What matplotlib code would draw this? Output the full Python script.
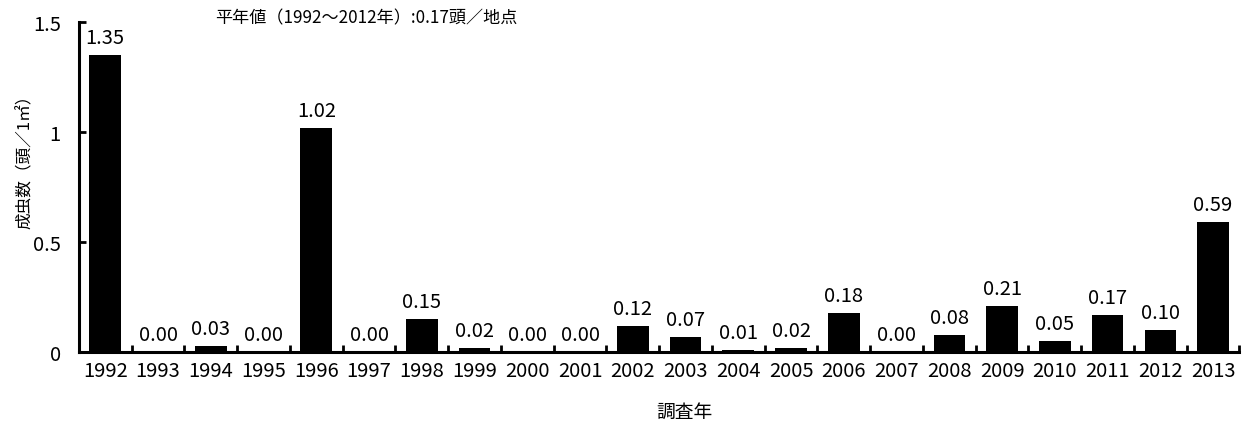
import numpy as np
import matplotlib.pyplot as plt
from matplotlib.ticker import FixedLocator

plt.rcParams['font.family'] = ['Noto Sans CJK JP', 'DejaVu Sans']

years = [str(y) for y in range(1992, 2014)]
counts = [1.35, 0.00, 0.03, 0.00, 1.02, 0.00, 0.15, 0.02, 0.00, 0.00, 0.12,
          0.07, 0.01, 0.02, 0.18, 0.00, 0.08, 0.21, 0.05, 0.17, 0.10, 0.59]
y_ticks = [0, 0.5, 1, 1.5]
y_labels = ['0', '0.5', '1', '1.5']

fig = plt.figure(figsize=(12.52, 4.27), dpi=100)
ax = fig.add_axes([0.063, 0.173, 0.927, 0.773])

x = np.arange(len(years))
ax.bar(x, counts, width=0.6, color='black')
for xi, v in zip(x, counts):
    ax.annotate(f'{v:.2f}', (xi, v), xytext=(0, 8.5), textcoords='offset points',
                ha='center', va='baseline', fontsize=14.5)

ax.set_xlim(-0.5, len(years) - 0.5)
ax.set_ylim(0, 1.5)
ax.set_xticks(x)
ax.set_xticklabels(years, fontsize=14.5)
# ticks between the bars, pointing up into the plot
ax.xaxis.set_minor_locator(FixedLocator(np.arange(-0.5, len(years), 1.0)))
ax.tick_params(axis='x', which='major', length=0, pad=5.5)
ax.tick_params(axis='x', which='minor', direction='in', length=5, width=2)
ax.set_yticks(y_ticks)
ax.set_yticklabels(y_labels, fontsize=14.5)
ax.tick_params(axis='y', direction='in', length=5, width=2, pad=13)

for side in ['top', 'right']:
    ax.spines[side].set_visible(False)
for side in ['left', 'bottom']:
    ax.spines[side].set_linewidth(2.2)

fig.text(25 / 1252, 1 - 158 / 427, '成虫数（頭／1㎡）', rotation=90,
         ha='center', va='center', fontsize=12)
fig.text(684 / 1252, 1 - 412 / 427, '調査年', ha='center', va='center', fontsize=13.5)
fig.text(215 / 1252, 1 - 18.5 / 427, '平年値（1992〜2012年）:0.17頭／地点',
         ha='left', va='center', fontsize=12.3)

fig.savefig('out.png', dpi=100)
